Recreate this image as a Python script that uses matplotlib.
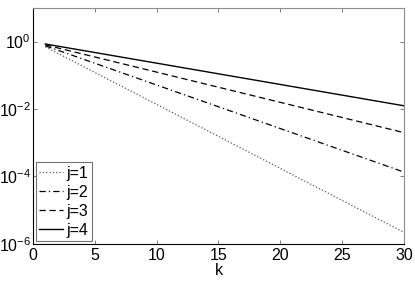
import matplotlib
matplotlib.use("Agg")
import matplotlib.pyplot as plt
from matplotlib.ticker import NullLocator

plt.rcParams['font.family'] = ['Liberation Sans', 'DejaVu Sans']
plt.rcParams['font.size'] = 11.5

# Series: straight lines on the log axis, k = 1 .. 30
k = [1, 30]
j1 = [0.70, 2.2e-6]
j2 = [0.75, 1.35e-4]
j3 = [0.80, 2.0e-3]
j4 = [0.85, 1.25e-2]
labels = ["j=1", "j=2", "j=3", "j=4"]

fig = plt.figure(figsize=(4.15, 2.82), dpi=100)
ax = fig.add_axes([0.0795, 0.135, 0.894, 0.837])

ax.semilogy(k, j1, ':', color='0.35', lw=0.9, label=labels[0])
ax.semilogy(k, j2, '-.', color='k', lw=0.9, dashes=(5, 2.5, 1, 2.5), label=labels[1])
ax.semilogy(k, j3, '--', color='k', lw=0.9, dashes=(5, 3), label=labels[2])
ax.semilogy(k, j4, '-', color='k', lw=1.0, label=labels[3])

ax.set_xlim(0, 30)
ax.set_ylim(1e-6, 1e1)
ax.set_xticks([0, 5, 10, 15, 20, 25, 30])
ax.set_yticks([1e-6, 1e-4, 1e-2, 1e0])
ax.yaxis.set_minor_locator(NullLocator())
ax.tick_params(direction='in', length=3, width=0.6, top=True, right=True,
               labelsize=11.5, color='0.4')
ax.tick_params(axis='y', pad=1.5)
ax.tick_params(axis='x', pad=3)
ax.set_xlabel("k", labelpad=0)

for s in ['top', 'right']:
    ax.spines[s].set_color('0.55')
for s in ['left', 'bottom']:
    ax.spines[s].set_color('k')
for s in ax.spines.values():
    s.set_linewidth(0.8)

leg = ax.legend(loc='lower left', borderaxespad=0.2, handlelength=1.5,
                handletextpad=0.2, labelspacing=0.25, borderpad=0.2,
                fancybox=False, framealpha=1, edgecolor='0.45', fontsize=11.5)
leg.get_frame().set_linewidth(0.8)

fig.savefig("out.png", dpi=100)
